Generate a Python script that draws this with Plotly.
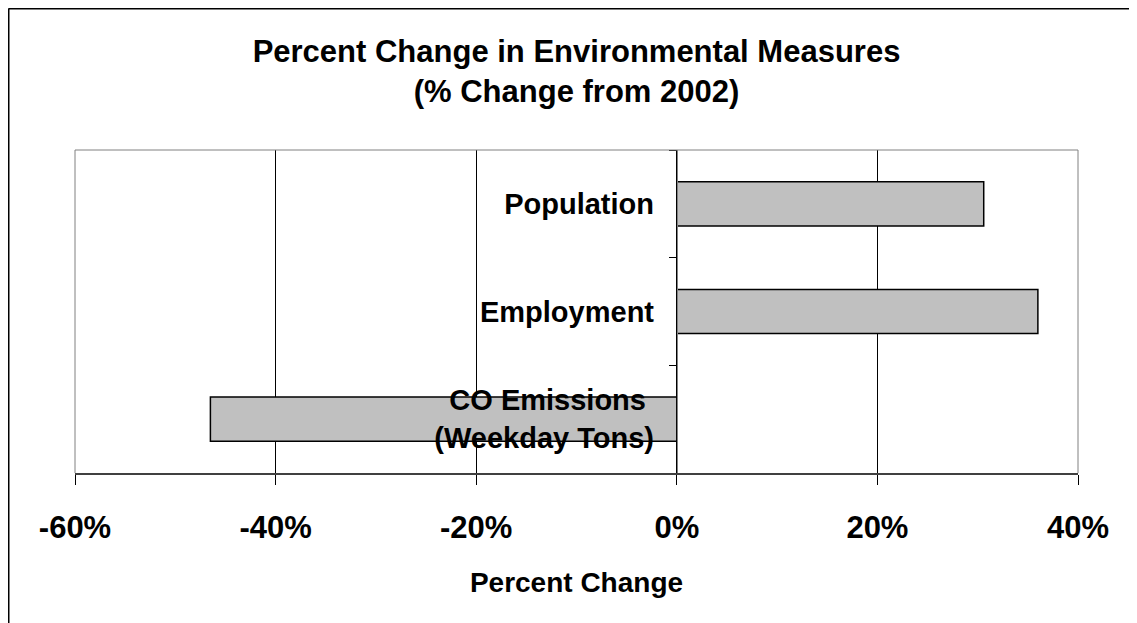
import plotly.graph_objects as go

categories = ["Population", "Employment", "CO Emissions\u00a0<br>(Weekday Tons)"]
pct_change = [30.6, 36.0, -46.5]
x_ticks = [-60, -40, -20, 0, 20, 40]
x_tick_labels = ["-60%", "-40%", "-20%", "0%", "20%", "40%"]

# page body has an 8px margin; the figure fills the rest of the window
OFF = 8
W, H = 1137 - OFF, 623 - OFF
ML, MT = 75 - OFF, 150 - OFF
PW, PH = 1003, 323
MR, MB = W - ML - PW, H - MT - PH

def px_x(p):
    return (p - ML) / PW

def px_y(p):
    return (H - MB - p) / PH

FONT = "Arial, Liberation Sans, sans-serif"

fig = go.Figure()
fig.add_trace(go.Bar(
    y=categories, x=pct_change, orientation="h",
    width=0.41,
    marker=dict(color="#C0C0C0", line=dict(color="black", width=1.5)),
    hoverinfo="skip",
))

shapes = [
    dict(type="line", xref="paper", yref="paper", x0=0, x1=1, y0=1, y1=1,
         line=dict(color="#808080", width=1)),
    dict(type="line", xref="paper", yref="paper", x0=0, x1=0, y0=0, y1=1,
         line=dict(color="#808080", width=1)),
    dict(type="line", xref="paper", yref="paper", x0=1, x1=1, y0=0, y1=1,
         line=dict(color="#808080", width=1)),
    # outer chart frame (left and top edges)
    dict(type="line", xref="paper", yref="paper", x0=px_x(0.5), x1=px_x(0.5),
         y0=px_y(0.5), y1=px_y(H + 5), line=dict(color="black", width=2)),
    dict(type="line", xref="paper", yref="paper", x0=px_x(0.5), x1=px_x(W + 5),
         y0=px_y(0.5), y1=px_y(0.5), line=dict(color="black", width=2)),
]

fig.update_layout(
    width=W, height=H,
    margin=dict(l=ML, r=MR, t=MT, b=MB, pad=0),
    paper_bgcolor="white", plot_bgcolor="white",
    showlegend=False,
    font=dict(family=FONT, color="black"),
    title=dict(
        text="<b>Percent Change in Environmental Measures<br>(% Change from 2002)</b>",
        x=0.5, xref="paper", xanchor="center",
        y=1 - 54 / H, yanchor="top",
        font=dict(size=31, family=FONT, color="black"),
    ),
    xaxis=dict(
        range=[-60, 40], tickvals=x_ticks,
        ticktext=["<b>%s</b>" % t for t in x_tick_labels],
        ticks="outside", ticklen=10, tickcolor="black", tickwidth=1,
        showgrid=True, gridcolor="black", gridwidth=1,
        zeroline=False,
        showline=True, linecolor="#404040", linewidth=2,
        tickfont=dict(size=31, family=FONT, color="black"),
        ticklabelstandoff=16,
        title=dict(text="<b>Percent Change</b>", standoff=28,
                   font=dict(size=28, family=FONT, color="black")),
    ),
    yaxis=dict(
        anchor="free", position=0.6,
        autorange="reversed",
        ticks="outside", ticklen=8, tickcolor="black", tickson="boundaries",
        showline=True, linecolor="#808080", linewidth=1,
        showgrid=False,
        tickfont=dict(size=29, family=FONT, color="black"),
        tickprefix="<b>", ticksuffix="</b>",
        ticklabelstandoff=17,
    ),
    shapes=shapes,
)

fig.write_html("out.html")
